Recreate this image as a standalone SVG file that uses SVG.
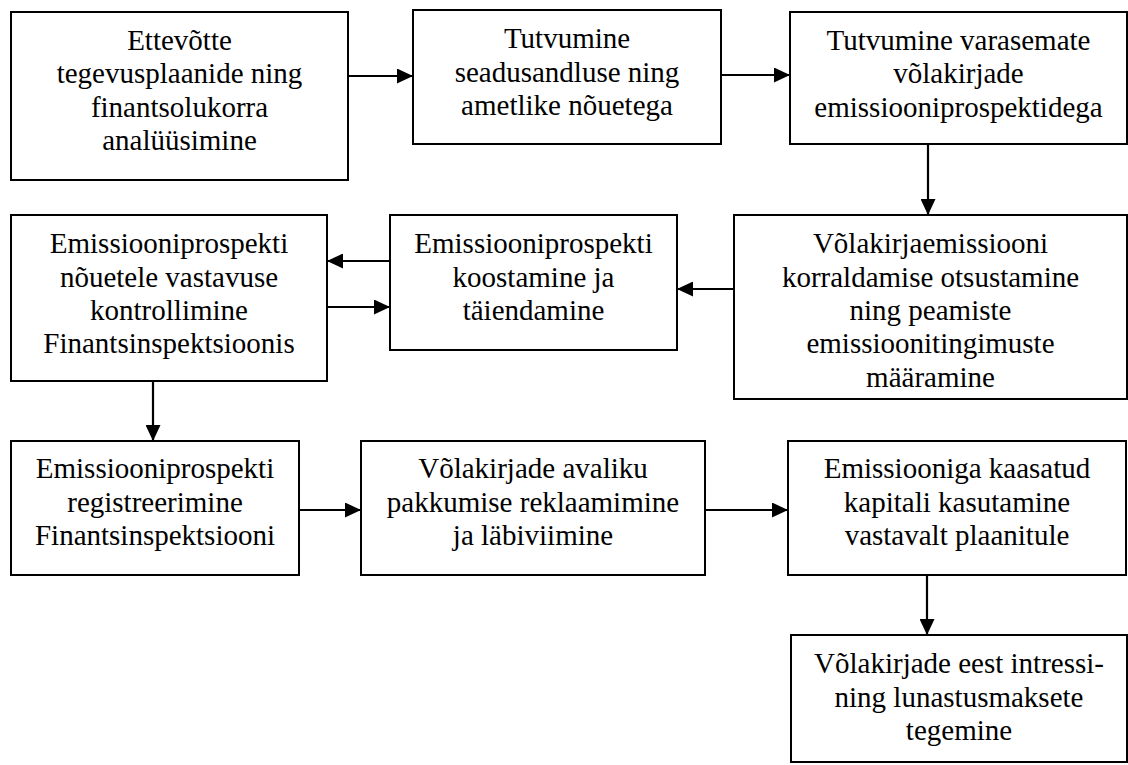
<svg xmlns="http://www.w3.org/2000/svg" width="1128" height="765" viewBox="0 0 1128 765">
  <style>
    .box { fill: #ffffff; stroke: #000000; stroke-width: 2; }
    .lbl { font-family: "Liberation Serif", Tinos, "Times New Roman", Times, "Noto Serif", "DejaVu Serif", serif; font-size: 29px; fill: #000000; text-anchor: middle; }
    .edge { fill: none; stroke: #000000; stroke-width: 2.2; marker-end: url(#head); }
  </style>
  <defs>
    <marker id="head" markerUnits="userSpaceOnUse" markerWidth="16" markerHeight="15" refX="16" refY="7.5" orient="auto">
      <path d="M0,0 L16,7.5 L0,15 Z" fill="#000000"/>
    </marker>
  </defs>
  <rect width="1128" height="765" fill="#ffffff"/>

  <!-- connectors -->
  <g id="connectors">
    <line class="edge" x1="348" y1="76" x2="413" y2="76"/>
    <line class="edge" x1="721" y1="75" x2="790" y2="75"/>
    <line class="edge" x1="928" y1="144" x2="928" y2="215"/>
    <line class="edge" x1="735" y1="289" x2="677" y2="289"/>
    <line class="edge" x1="390" y1="261" x2="327" y2="261"/>
    <line class="edge" x1="327" y1="307" x2="390" y2="307"/>
    <line class="edge" x1="153" y1="381" x2="153" y2="441"/>
    <line class="edge" x1="299" y1="510" x2="361" y2="510"/>
    <line class="edge" x1="705" y1="510" x2="788" y2="510"/>
    <line class="edge" x1="927" y1="575" x2="927" y2="635"/>
  </g>

  <g id="n1">
    <rect class="box" x="11" y="12" width="337" height="168"/>
    <text class="lbl" x="179.5" y="50">Ettevõtte</text>
    <text class="lbl" x="179.5" y="83.3">tegevusplaanide ning</text>
    <text class="lbl" x="179.5" y="116.7">finantsolukorra</text>
    <text class="lbl" x="179.5" y="150">analüüsimine</text>
  </g>

  <g id="n2">
    <rect class="box" x="413" y="10" width="308" height="134"/>
    <text class="lbl" x="567" y="48.3">Tutvumine</text>
    <text class="lbl" x="567" y="81.7">seadusandluse ning</text>
    <text class="lbl" x="567" y="115">ametlike nõuetega</text>
  </g>

  <g id="n3">
    <rect class="box" x="790" y="12" width="337" height="132"/>
    <text class="lbl" x="958.5" y="50">Tutvumine varasemate</text>
    <text class="lbl" x="958.5" y="83.3">võlakirjade</text>
    <text class="lbl" x="958.5" y="116.7">emissiooniprospektidega</text>
  </g>

  <g id="n4">
    <rect class="box" x="734" y="215" width="393" height="184"/>
    <text class="lbl" x="930.5" y="253.3">Võlakirjaemissiooni</text>
    <text class="lbl" x="930.5" y="286.7">korraldamise otsustamine</text>
    <text class="lbl" x="930.5" y="320">ning peamiste</text>
    <text class="lbl" x="930.5" y="353.3">emissioonitingimuste</text>
    <text class="lbl" x="930.5" y="386.7">määramine</text>
  </g>

  <g id="n5">
    <rect class="box" x="390" y="215" width="287" height="135"/>
    <text class="lbl" x="533.5" y="253.3">Emissiooniprospekti</text>
    <text class="lbl" x="533.5" y="286.7">koostamine ja</text>
    <text class="lbl" x="533.5" y="320">täiendamine</text>
  </g>

  <g id="n6">
    <rect class="box" x="11" y="215" width="316" height="166"/>
    <text class="lbl" x="169" y="253.3">Emissiooniprospekti</text>
    <text class="lbl" x="169" y="286.7">nõuetele vastavuse</text>
    <text class="lbl" x="169" y="320">kontrollimine</text>
    <text class="lbl" x="169" y="353.3">Finantsinspektsioonis</text>
  </g>

  <g id="n7">
    <rect class="box" x="11" y="441" width="288" height="134"/>
    <text class="lbl" x="155" y="478.3">Emissiooniprospekti</text>
    <text class="lbl" x="155" y="511.7">registreerimine</text>
    <text class="lbl" x="155" y="545">Finantsinspektsiooni</text>
  </g>

  <g id="n8">
    <rect class="box" x="361" y="441" width="344" height="134"/>
    <text class="lbl" x="533" y="478.3">Võlakirjade avaliku</text>
    <text class="lbl" x="533" y="511.7">pakkumise reklaamimine</text>
    <text class="lbl" x="533" y="545">ja läbiviimine</text>
  </g>

  <g id="n9">
    <rect class="box" x="788" y="441" width="338" height="134"/>
    <text class="lbl" x="957" y="478.3">Emissiooniga kaasatud</text>
    <text class="lbl" x="957" y="511.7">kapitali kasutamine</text>
    <text class="lbl" x="957" y="545">vastavalt plaanitule</text>
  </g>

  <g id="n10">
    <rect class="box" x="791" y="635" width="336" height="127"/>
    <text class="lbl" x="959" y="673.3">Võlakirjade eest intressi-</text>
    <text class="lbl" x="959" y="706.7">ning lunastusmaksete</text>
    <text class="lbl" x="959" y="740">tegemine</text>
  </g>
</svg>
